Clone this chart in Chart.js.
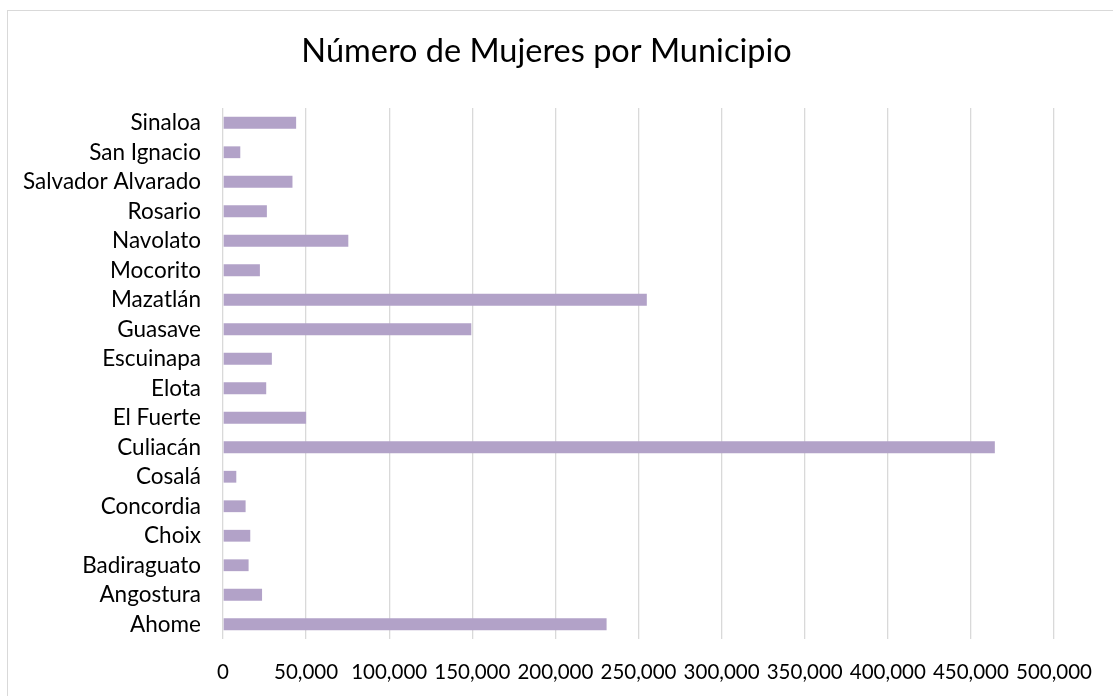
<!DOCTYPE html>
<html>
<head>
<meta charset="utf-8">
<script src="https://cdn.jsdelivr.net/npm/chart.js@4"></script>
<style>
  html, body { margin: 0; padding: 0; background: #fff; overflow: hidden; }
  #wrap { position: relative; width: 1113px; height: 696px; }
  #frame { position: absolute; left: 7px; top: 10px; width: 1200px; height: 800px; border: 1px solid #d9d9d9; box-sizing: border-box; }
  #c { position: absolute; left: 0; top: 0; }
</style>
</head>
<body>
<div id="wrap">
  <div id="frame"></div>
  <canvas id="c" width="1113" height="696"></canvas>
</div>
<script>
const titleText = 'Número de Mujeres por Municipio';
const municipios = ['Ahome', 'Angostura', 'Badiraguato', 'Choix', 'Concordia', 'Cosalá', 'Culiacán', 'El Fuerte', 'Elota', 'Escuinapa', 'Guasave', 'Mazatlán', 'Mocorito', 'Navolato', 'Rosario', 'Salvador Alvarado', 'San Ignacio', 'Sinaloa'];
const mujeres = [230800, 23500, 15400, 16400, 13600, 8000, 464400, 50000, 26000, 29400, 149400, 255000, 22200, 75400, 26400, 41800, 10400, 44000];
const xMin = 0;
const xMax = 500000;
const xStep = 50000;

const FONT = 'Lato, "Open Sans", sans-serif';

new Chart(document.getElementById('c'), {
  type: 'bar',
  data: {
    labels: municipios,
    datasets: [{
      data: mujeres,
      backgroundColor: '#b2a2c8',
      borderWidth: 0,
      barPercentage: 0.4,
      categoryPercentage: 1.0
    }]
  },
  options: {
    indexAxis: 'y',
    responsive: false,
    animation: false,
    layout: { padding: { left: 0, right: 20, top: 0, bottom: 0 } },
    plugins: {
      legend: { display: false },
      tooltip: { enabled: false },
      title: {
        display: true,
        text: titleText,
        color: '#000',
        font: { family: FONT, size: 32.5, weight: 'normal' },
        padding: { top: 32, bottom: 37 }
      }
    },
    scales: {
      x: {
        min: xMin,
        max: xMax,
        ticks: {
          stepSize: xStep,
          color: '#000',
          font: { family: FONT, size: 20.5 },
          padding: 21,
          maxRotation: 0,
          autoSkip: false,
          callback: v => Number(v).toLocaleString('en-US')
        },
        grid: { color: '#d9d9d9', lineWidth: 1.3, drawTicks: false },
        border: { display: false },
        afterFit: s => { s.height = 57; }
      },
      y: {
        reverse: true,
        ticks: {
          color: '#000',
          font: { family: FONT, size: 22.5 },
          padding: 22,
          autoSkip: false
        },
        grid: { display: false, drawTicks: false },
        border: { display: false },
        afterFit: s => { s.width = 223; }
      }
    }
  }
});
</script>
</body>
</html>
